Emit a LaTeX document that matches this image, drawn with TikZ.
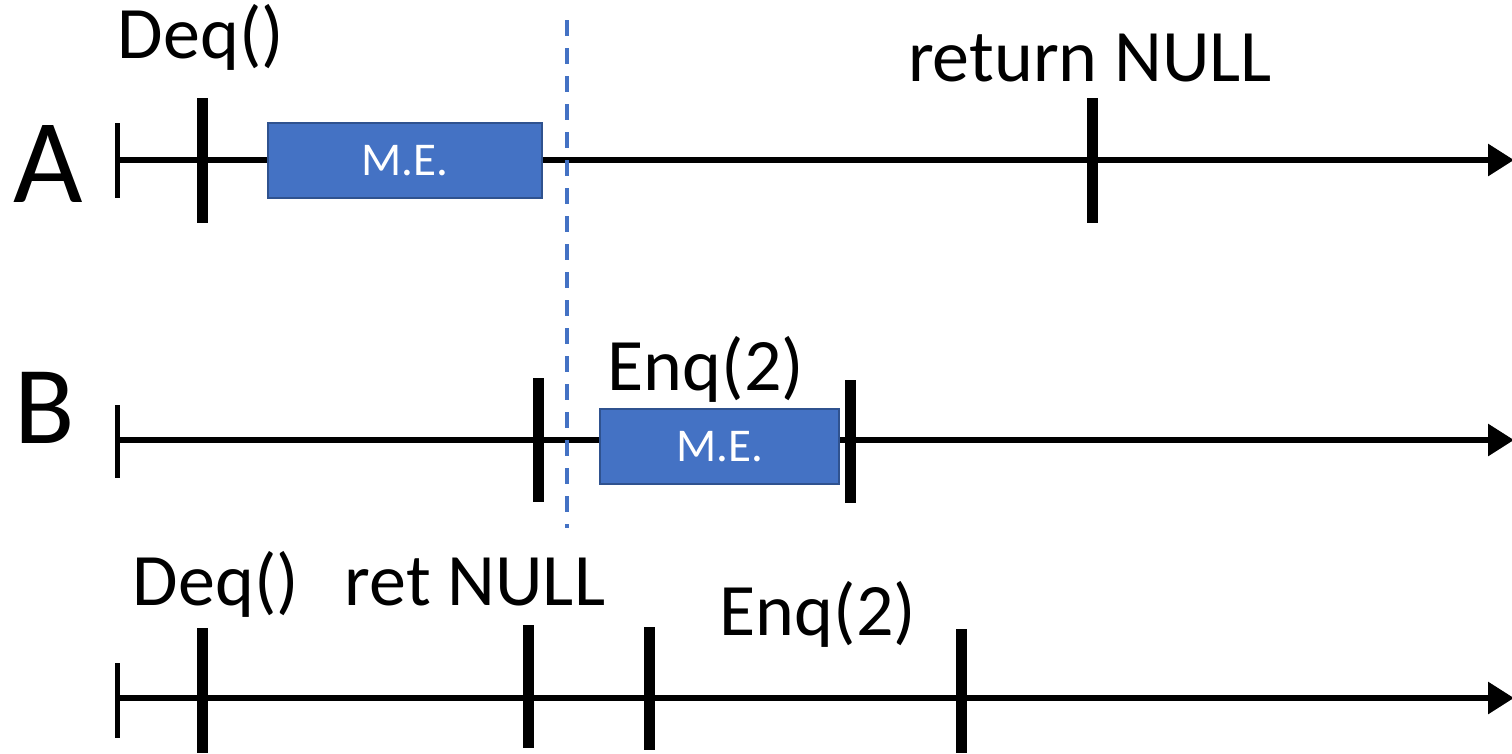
\documentclass[tikz,border=0pt]{standalone}
\usepackage{fontspec}
\setmainfont{Carlito}
\usetikzlibrary{arrows.meta}
\definecolor{meblue}{HTML}{4472C4}
\definecolor{meedge}{HTML}{2F528F}
\begin{document}
\begin{tikzpicture}[x=1pt,y=-1pt,
  axis/.style={line width=6pt,-{Triangle[length=26pt,width=31pt]}},
  starttick/.style={line width=5pt},
  evtick/.style={line width=11pt},
  mebox/.style={draw=meedge,line width=2.5pt,fill=meblue,inner sep=0pt,
    text=white,font=\fontsize{47}{52}\selectfont},
  lbl/.style={anchor=base,inner sep=0pt,font=\fontsize{74}{88}\selectfont},
  thread/.style={anchor=base,inner sep=0pt,font=\fontsize{#1}{#1}\selectfont}]
\useasboundingbox (0,0) rectangle (1512,753);

% thread A
\coordinate (a0) at (117,160);
\coordinate (a1) at (1514,160);
\node[thread=120] (la) at (48,202) {A};
\draw[axis] (a0) -- (a1);
\draw[starttick] (117,123) -- (117,198);
\draw[evtick] (202,98) -- (202,223);
\draw[evtick] (1092,98) -- (1092,223);
\node[mebox,minimum width=274pt,minimum height=75pt] (mea) at (405,160.5) {M.E.};
\node[lbl] (deqa) at (201,58) {Deq()};
\node[lbl] (reta) at (1090,81) {return NULL};

% thread B
\coordinate (b0) at (117,440);
\coordinate (b1) at (1514,440);
\node[thread=111] (lb) at (45,443) {B};
\draw[axis] (b0) -- (b1);
\draw[starttick] (117,405) -- (117,478);
\draw[evtick] (538,378) -- (538,502);
\draw[evtick] (850,380) -- (850,503);
\node[mebox,minimum width=239pt,minimum height=75pt] (meb) at (719.5,446.5) {M.E.};
\node[lbl] (enqb) at (706,390) {Enq(2)};

% linearization point
\coordinate (lp0) at (567,20);
\coordinate (lp1) at (567,528);
\draw[meblue,line width=3.5pt,dash pattern=on 16pt off 12pt] (lp0) -- (lp1);

% sequential history
\coordinate (c0) at (117,698);
\coordinate (c1) at (1514,698);
\draw[axis] (c0) -- (c1);
\draw[starttick] (117,663) -- (117,738);
\draw[evtick] (202,628) -- (202,753);
\draw[evtick] (528,625) -- (528,748);
\draw[evtick] (649,627) -- (649,750);
\draw[evtick] (961,629) -- (961,753);
\node[lbl] (deqc) at (216,605) {Deq()};
\node[lbl] (retc) at (475,605) {ret NULL};
\node[lbl] (enqc) at (818,635) {Enq(2)};
\end{tikzpicture}
\end{document}
